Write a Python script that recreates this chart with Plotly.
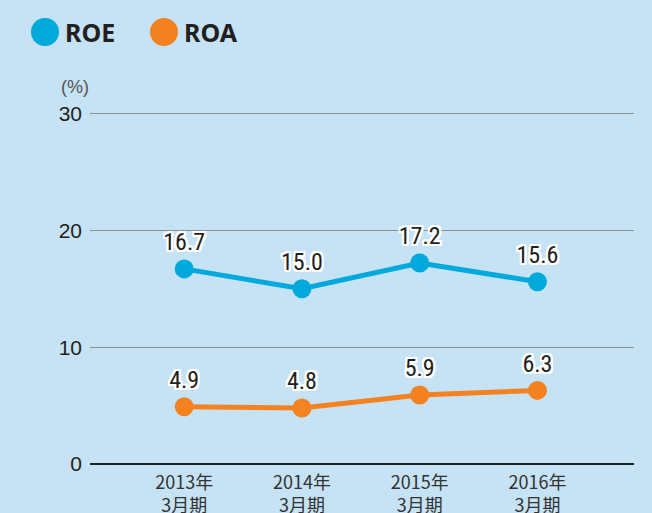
import plotly.graph_objects as go

categories = ["2013年<br>3月期", "2014年<br>3月期", "2015年<br>3月期", "2016年<br>3月期"]
roe = [16.7, 15.0, 17.2, 15.6]
roa = [4.9, 4.8, 5.9, 6.3]
y_ticks = [0, 10, 20, 30]

BG = "#c6e2f5"
ROE_C = "#00a9dc"
ROA_C = "#f58220"
outline = ",".join(f"{dx}px {dy}px 0 #ffffff" for dx in (-2, -1, 0, 1, 2) for dy in (-2, -1, 0, 1, 2) if (dx, dy) != (0, 0))
label_font = dict(family="Liberation Sans Narrow, Roboto Condensed, Arial Narrow, sans-serif",
                  size=24, color="#231f20", shadow=outline)

x = list(range(len(categories)))
fig = go.Figure()
for vals, col in ((roe, ROE_C), (roa, ROA_C)):
    fig.add_trace(go.Scatter(
        x=x, y=vals, mode="lines+markers+text",
        line=dict(color=col, width=5),
        marker=dict(color=col, size=19),
        text=[f"{v:.1f}" for v in vals], textposition="top center",
        textfont=label_font, cliponaxis=False, showlegend=False,
    ))

T, B = 110, 49
fig.update_layout(
    width=652, height=513,
    paper_bgcolor=BG, plot_bgcolor=BG,
    margin=dict(l=90, r=18, t=T, b=B, autoexpand=False),
    xaxis=dict(range=[-0.8, 3.82], tickmode="array", tickvals=x, ticktext=categories,
               showgrid=False, zeroline=False, showline=False, ticks="", automargin=False,
               ticklabelstandoff=6,
               tickfont=dict(family="Noto Sans CJK JP", size=18, color="#333333")),
    yaxis=dict(range=[0, 30.3], tickmode="array", tickvals=y_ticks, ticktext=[str(t) for t in y_ticks],
               showgrid=True, gridcolor="#8c9196", gridwidth=1, automargin=False,
               zeroline=True, zerolinecolor="#231f20", zerolinewidth=1.5,
               showline=False, ticks="", ticklabelstandoff=7,
               tickfont=dict(family="Liberation Sans Narrow, Arial Narrow, sans-serif", size=21, color="#231f20")),
    font=dict(family="Noto Sans CJK JP"),
)

H = 513 - T - B
def py(pix):
    return (513 - B - pix) / H

# unit label
fig.add_annotation(text="(%)", xref="paper", yref="paper", x=(75 - 90) / 544, y=py(87),
                   xanchor="center", yanchor="middle", showarrow=False,
                   font=dict(family="Liberation Sans Narrow, sans-serif", size=18, color="#555555"))

# custom legend
legend_items = [("ROE", ROE_C, 45, 63), ("ROA", ROA_C, 164, 182)]
for name, col, cx, tx in legend_items:
    fig.add_shape(type="circle", xref="paper", yref="paper",
                  x0=(cx - 14 - 90) / 544, x1=(cx + 14 - 90) / 544,
                  y0=py(32 + 14), y1=py(32 - 14),
                  fillcolor=col, line=dict(width=0))
    fig.add_annotation(text=f"<b>{name}</b>", xref="paper", yref="paper",
                       x=(tx - 90) / 544, y=py(32), xanchor="left", yanchor="middle",
                       showarrow=False, font=dict(family="Noto Sans, sans-serif", size=25, color="#231f20"))

fig.write_html("out.html", config={"displayModeBar": False},
               post_script="document.body.style.margin='0';document.body.style.overflow='hidden';")
